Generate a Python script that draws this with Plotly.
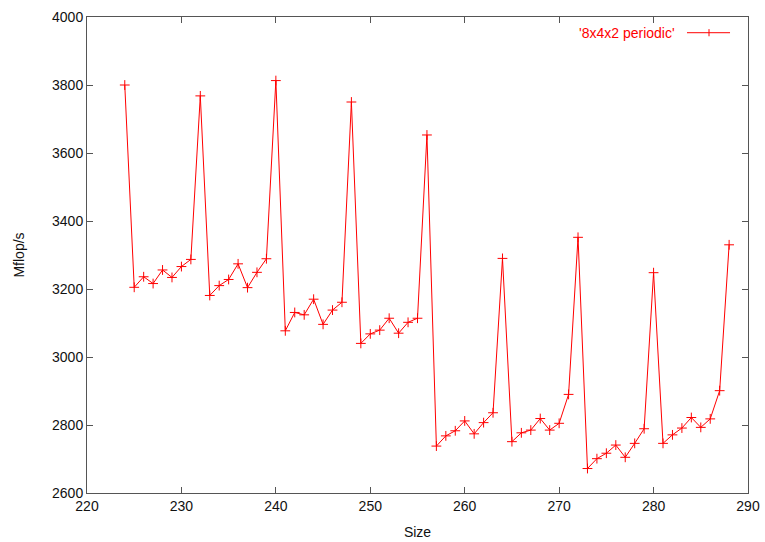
import plotly.graph_objects as go

# Problem size and measured throughput (Mflop/s)
sizes = list(range(224, 289))
mflops = [
    3800, 3205, 3236, 3216, 3256, 3234, 3266, 3287, 3768,
    3181, 3210, 3228, 3274, 3204, 3249, 3289, 3813,
    3077, 3131, 3124, 3170, 3096, 3138, 3161, 3750,
    3040, 3068, 3079, 3114, 3070, 3102, 3114, 3653,
    2738, 2768, 2783, 2812, 2774, 2807, 2836, 3290,
    2751, 2777, 2785, 2819, 2785, 2805, 2890, 3352,
    2672, 2701, 2717, 2741, 2705, 2746, 2789, 3248,
    2746, 2771, 2791, 2822, 2793, 2818, 2901, 3330,
]
series_name = "'8x4x2 periodic'"
x_ticks = [220, 230, 240, 250, 260, 270, 280, 290]
y_ticks = [2600, 2800, 3000, 3200, 3400, 3600, 3800, 4000]

RED = "#ff0000"
AXIS = "#555555"
FONT = "Liberation Sans, Arial, Helvetica, sans-serif"
FS = 14

fig = go.Figure()
fig.add_trace(go.Scatter(
    x=sizes, y=mflops, mode="lines+markers", name=series_name,
    line=dict(color=RED, width=1),
    marker=dict(symbol="cross-thin", size=7, color=RED, line=dict(color=RED, width=1)),
    showlegend=False,
))

# Key in the top-right corner: label followed by a line sample with a point
key_y = 0.967
fig.add_annotation(
    xref="paper", yref="paper", x=0.893, y=key_y, xanchor="right", yanchor="middle",
    text=series_name, showarrow=False, font=dict(family=FONT, size=FS, color=RED),
)
fig.add_shape(type="line", xref="paper", yref="paper",
              x0=0.9077, x1=0.9728, y0=key_y, y1=key_y, line=dict(color=RED, width=1))
fig.add_shape(type="line", xref="paper", yref="paper",
              x0=0.941, x1=0.941, y0=key_y - 0.0075, y1=key_y + 0.0075,
              line=dict(color=RED, width=1))

axis_common = dict(
    showline=True, linecolor=AXIS, linewidth=1, mirror="ticks",
    ticks="inside", ticklen=6, tickcolor=AXIS, tickwidth=1,
    showgrid=False, zeroline=False, automargin=False,
    tickfont=dict(family=FONT, size=FS, color="#111111"),
)

fig.update_layout(
    width=765, height=542,
    margin=dict(l=87, r=17, t=17, b=49),
    paper_bgcolor="white", plot_bgcolor="white",
    xaxis=dict(range=[220, 290], tickvals=x_ticks,
               title=dict(text="Size", font=dict(family=FONT, size=FS, color="#111111"), standoff=14),
               **axis_common),
    yaxis=dict(range=[2600, 4000], tickvals=y_ticks,
               title=dict(text="Mflop/s", font=dict(family=FONT, size=FS, color="#111111"), standoff=24),
               **axis_common),
)

fig.write_html("out.html")
